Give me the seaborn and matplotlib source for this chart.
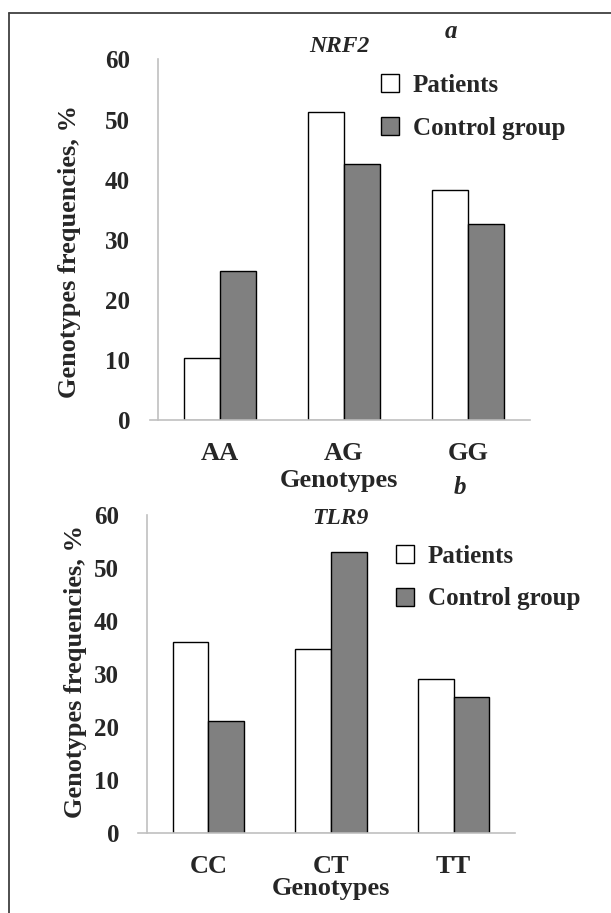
import matplotlib
matplotlib.use("Agg")
import matplotlib.pyplot as plt
from matplotlib.patches import Patch
from matplotlib.lines import Line2D
import seaborn as sns
import pandas as pd

# ---- data ----
groups = ["Patients", "Control group"]
nrf2_genotypes = ["AA", "AG", "GG"]
nrf2_patients = [10.4, 51.2, 38.3]
nrf2_control = [24.8, 42.6, 32.7]
tlr9_genotypes = ["CC", "CT", "TT"]
tlr9_patients = [36.0, 34.8, 29.0]
tlr9_control = [21.2, 53.1, 25.6]
y_ticks = [0, 10, 20, 30, 40, 50, 60]

sns.set_style("white")
plt.rcParams["font.family"] = ["Liberation Serif", "DejaVu Serif"]
plt.rcParams["font.weight"] = "bold"

W, H = 611, 913
fig = plt.figure(figsize=(W / 100, H / 100), dpi=100)
fig.patch.set_facecolor("white")

def fx(p):
    return p / W

def fy(p):
    return 1 - p / H

palette = {"Patients": "#ffffff", "Control group": "#808080"}
FS = 19
YFS = 18
LFS = 18
SPINE = "#c0c0c0"

def make_df(genos, pat, ctl):
    rows = []
    for g, v in zip(genos, pat):
        rows.append({"Genotype": g, "Group": groups[0], "Value": v})
    for g, v in zip(genos, ctl):
        rows.append({"Genotype": g, "Group": groups[1], "Value": v})
    return pd.DataFrame(rows)

def panel(left, right, top, bottom, axis_px, genos, pat, ctl):
    ax = fig.add_axes([fx(left), fy(bottom), (right - left) / W, (bottom - top) / H])
    df = make_df(genos, pat, ctl)
    sns.barplot(data=df, x="Genotype", y="Value", hue="Group", hue_order=groups,
                palette=palette, edgecolor="black", linewidth=1.0, width=0.58,
                errorbar=None, ax=ax, legend=False, saturation=1)
    catw = (right - axis_px) / 3.0
    xl = -0.5 - (axis_px - left) / catw
    ax.set_xlim(xl, 2.5)
    ax.set_ylim(0, 60)
    for s in ["top", "right"]:
        ax.spines[s].set_visible(False)
    ax.spines["left"].set_position(("data", -0.5))
    for s in ["left", "bottom"]:
        ax.spines[s].set_color(SPINE)
        ax.spines[s].set_linewidth(1.2)
    ax.set_yticks(y_ticks)
    ax.set_yticklabels([str(t) for t in y_ticks], fontsize=YFS, fontweight="bold")
    ax.tick_params(axis="y", direction="out", length=7, width=1.2, color=SPINE, pad=13)
    ax.set_xticks([0, 1, 2])
    ax.set_xticklabels(genos, fontsize=FS, fontweight="bold")
    ax.tick_params(axis="x", which="major", length=0, pad=16)
    ax.set_xticks([-0.5, 0.5, 1.5, 2.5], minor=True)
    ax.tick_params(axis="x", which="minor", direction="out", length=7, width=1.2, color=SPINE)
    ax.set_xlabel("")
    ax.set_ylabel("")
    ax.patch.set_alpha(0)
    return ax

ax1 = panel(150, 530, 59.5, 420, 158, nrf2_genotypes, nrf2_patients, nrf2_control)
ax2 = panel(138, 515, 515, 833, 147, tlr9_genotypes, tlr9_patients, tlr9_control)

def legend(ax, x, ytop):
    handles = [Patch(facecolor=palette[g], edgecolor="black", linewidth=1.0) for g in groups]
    ax.legend(handles, groups, loc="upper left", bbox_to_anchor=(fx(x), fy(ytop)),
              bbox_transform=fig.transFigure, frameon=False, borderpad=0,
              borderaxespad=0, handlelength=0.72, handleheight=0.72,
              handletextpad=0.55, labelspacing=0.78,
              prop={"family": "Liberation Serif", "weight": "bold", "size": LFS})

legend(ax1, 381, 74)
legend(ax2, 396, 545)

# y labels
fig.text(fx(70), fy(251), "Genotypes frequencies, %", rotation=90, ha="center", va="center",
         fontsize=FS, fontweight="bold")
fig.text(fx(76), fy(671), "Genotypes frequencies, %", rotation=90, ha="center", va="center",
         fontsize=FS, fontweight="bold")
# x labels
fig.text(fx(339), fy(480), "Genotypes", ha="center", va="center", fontsize=FS, fontweight="bold")
fig.text(fx(331), fy(888), "Genotypes", ha="center", va="center", fontsize=FS, fontweight="bold")
# titles
fig.text(fx(339), fy(47), "NRF2", ha="center", va="center", fontsize=17, fontweight="bold", style="italic")
fig.text(fx(340), fy(518), "TLR9", ha="center", va="center", fontsize=17, fontweight="bold", style="italic")
fig.text(fx(451), fy(32), "a", ha="center", va="center", fontsize=18, fontweight="bold", style="italic")
fig.text(fx(460), fy(488), "b", ha="center", va="center", fontsize=18, fontweight="bold", style="italic")

# frame
fig.add_artist(Line2D([fx(8.5), fx(611)], [fy(13), fy(13)], transform=fig.transFigure,
                      color="#404040", linewidth=1.3))
fig.add_artist(Line2D([fx(8.5), fx(8.5)], [fy(13), fy(913)], transform=fig.transFigure,
                      color="#404040", linewidth=1.3))

fig.savefig("out.png", dpi=100, facecolor="white")
